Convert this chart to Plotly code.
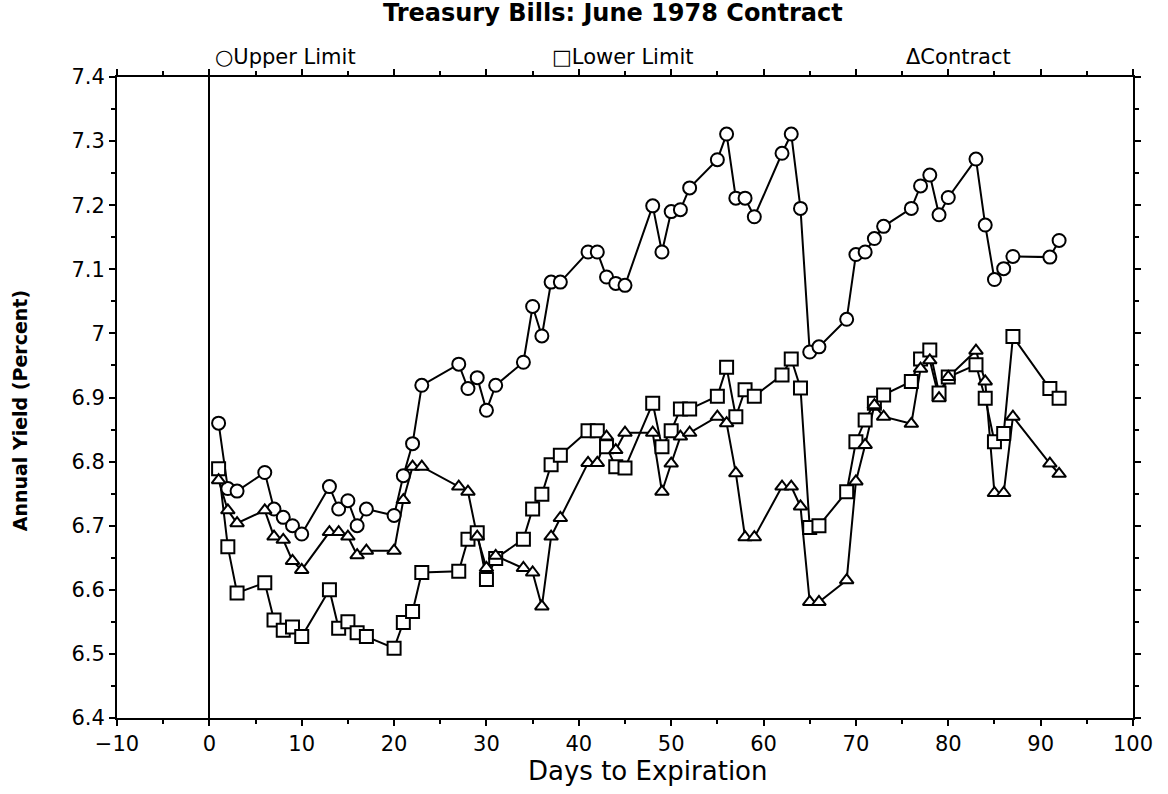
import plotly.graph_objects as go

days = [1, 2, 3, 6, 7, 8, 9, 10, 13, 14, 15, 16, 17, 20, 21, 22, 23, 27, 28, 29, 30, 31,
        34, 35, 36, 37, 38, 41, 42, 43, 44, 45, 48, 49, 50, 51, 52, 55, 56, 57, 58, 59,
        62, 63, 64, 65, 66, 69, 70, 71, 72, 73, 76, 77, 78, 79, 80, 83, 84, 85, 86, 87, 91, 92]

upper_limit = [6.860, 6.758, 6.754, 6.783, 6.726, 6.713, 6.700, 6.687, 6.761, 6.726, 6.739, 6.700,
               6.726, 6.716, 6.778, 6.828, 6.919, 6.952, 6.914, 6.931, 6.880, 6.919,
               6.955, 7.042, 6.996, 7.080, 7.080, 7.127, 7.127, 7.088, 7.078, 7.075,
               7.199, 7.127, 7.190, 7.193, 7.227, 7.271, 7.311, 7.211, 7.211, 7.182,
               7.281, 7.311, 7.195, 6.971, 6.979, 7.022, 7.123, 7.127, 7.148, 7.167,
               7.195, 7.230, 7.247, 7.185, 7.212, 7.272, 7.169, 7.084, 7.101, 7.120, 7.119, 7.145]

lower_limit = [6.789, 6.667, 6.595, 6.611, 6.553, 6.537, 6.542, 6.527, 6.600, 6.540, 6.550, 6.533,
               6.527, 6.509, 6.549, 6.566, 6.627, 6.629, 6.679, 6.689, 6.616, 6.649,
               6.679, 6.726, 6.749, 6.795, 6.810, 6.848, 6.848, 6.823, 6.792, 6.790,
               6.891, 6.823, 6.848, 6.882, 6.882, 6.902, 6.947, 6.870, 6.912, 6.902,
               6.935, 6.960, 6.915, 6.697, 6.700, 6.753, 6.831, 6.865, 6.891, 6.904,
               6.925, 6.960, 6.974, 6.907, 6.932, 6.951, 6.899, 6.831, 6.844, 6.995, 6.914, 6.899]

contract = [6.771, 6.724, 6.704, 6.724, 6.683, 6.678, 6.645, 6.631, 6.690, 6.690, 6.683, 6.654,
            6.661, 6.661, 6.740, 6.792, 6.792, 6.761, 6.753, 6.683, 6.634, 6.653,
            6.634, 6.627, 6.574, 6.683, 6.712, 6.798, 6.798, 6.839, 6.818, 6.845,
            6.845, 6.753, 6.797, 6.839, 6.845, 6.870, 6.860, 6.782, 6.682, 6.682,
            6.761, 6.761, 6.730, 6.581, 6.581, 6.615, 6.769, 6.826, 6.888, 6.870,
            6.859, 6.945, 6.958, 6.899, 6.932, 6.973, 6.925, 6.751, 6.751, 6.870, 6.797, 6.781]

x_ticks = [-10, 0, 10, 20, 30, 40, 50, 60, 70, 80, 90, 100]
y_ticks = [6.4, 6.5, 6.6, 6.7, 6.8, 6.9, 7.0, 7.1, 7.2, 7.3, 7.4]
y_tick_text = ["6.4", "6.5", "6.6", "6.7", "6.8", "6.9", "7", "7.1", "7.2", "7.3", "7.4"]

legend_labels = ["\u25cbUpper Limit", "\u25a1Lower Limit", "\u0394Contract"]
legend_pos = [0.166, 0.498, 0.828]

FONT = "DejaVu Sans, Liberation Sans, Arial"

fig = go.Figure()

series = [
    (upper_limit, "circle", 13, "Upper Limit"),
    (lower_limit, "square", 13, "Lower Limit"),
    (contract, "triangle-up", 12, "Contract"),
]
for vals, sym, size, name in series:
    fig.add_trace(go.Scatter(
        x=days, y=vals, mode="lines", name=name,
        line=dict(color="black", width=2), showlegend=False, hoverinfo="skip"))
for vals, sym, size, name in series:
    fig.add_trace(go.Scatter(
        x=days, y=vals, mode="markers", name=name,
        marker=dict(symbol=sym, size=size, color="white",
                    line=dict(color="black", width=2)),
        showlegend=False))

for lab, xp in zip(legend_labels, legend_pos):
    fig.add_annotation(text=lab, x=xp, y=1.031, xref="paper", yref="paper",
                       showarrow=False, xanchor="center", yanchor="middle",
                       font=dict(family=FONT, size=21, color="black"))

fig.add_annotation(text="<b>Annual Yield (Percent)</b>", x=-0.0955, y=0.48,
                   xref="paper", yref="paper", textangle=-90, showarrow=False,
                   xanchor="center", yanchor="middle",
                   font=dict(family=FONT, size=19, color="black"))
fig.add_annotation(text="Days to Expiration", x=0.522, y=-0.083,
                   xref="paper", yref="paper", showarrow=False,
                   xanchor="center", yanchor="middle",
                   font=dict(family=FONT, size=26, color="black"))

fig.update_layout(
    width=1168, height=794,
    margin=dict(l=117, r=35, t=77, b=76),
    paper_bgcolor="white", plot_bgcolor="white",
    title=dict(text="<b>Treasury Bills: June 1978 Contract</b>", x=0.488, xref="paper",
               xanchor="center", y=1 - 13 / 794, yanchor="middle",
               font=dict(family=FONT, size=24, color="black")),
    xaxis=dict(range=[-10, 100], tickvals=x_ticks, ticks="outside", ticklen=6,
               tickwidth=1.5, tickcolor="black", showline=True, linecolor="black",
               linewidth=2, mirror="ticks", showgrid=False,
               zeroline=True, zerolinecolor="black", zerolinewidth=1.5,
               tickfont=dict(family=FONT, size=21, color="black"),
               minor=dict(dtick=5, tick0=0, ticks="outside", ticklen=4,
                          tickcolor="black", tickwidth=1.5, showgrid=False)),
    yaxis=dict(range=[6.4, 7.4], tickvals=y_ticks, ticktext=y_tick_text,
               ticks="outside", ticklen=6, tickwidth=1.5, tickcolor="black",
               showline=True, linecolor="black", linewidth=2, mirror="ticks",
               showgrid=False, zeroline=False,
               tickfont=dict(family=FONT, size=21, color="black"),
               minor=dict(dtick=0.05, tick0=6.4, ticks="outside", ticklen=4,
                          tickcolor="black", tickwidth=1.5, showgrid=False)),
)

fig.write_html("out.html", config={"displayModeBar": False},
               post_script="document.body.style.margin='0px';")
